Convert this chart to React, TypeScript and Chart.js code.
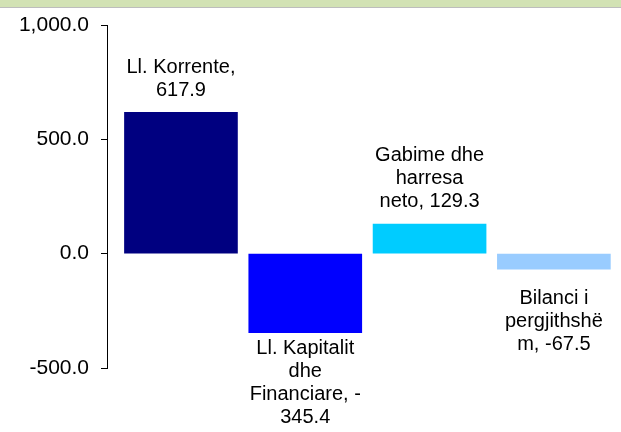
import React, { useEffect, useRef } from "react";
import { Chart, registerables } from "chart.js";

Chart.register(...registerables);

const categories = [
  "Ll. Korrente",
  "Ll. Kapitalit dhe Financiare",
  "Gabime dhe harresa neto",
  "Bilanci i pergjithshëm",
];
const values = [617.9, -345.4, 129.3, -67.5];
const barColors = ["#000080", "#0000FF", "#00CCFF", "#99CCFF"];
const yMin = -500;
const yMax = 1000;
const yStep = 500;

const labelGaps = [22, 16, 23, 29];
const FONT = '"Liberation Sans", Arial, sans-serif';

const fmt = (v: number) =>
  v.toLocaleString("en-US", { minimumFractionDigits: 1, maximumFractionDigits: 1 });

function wrap(ctx: CanvasRenderingContext2D, text: string, maxW: number): string[] {
  const words = text.split(" ");
  const lines: string[] = [];
  let line = "";
  const fits = (s: string) => ctx.measureText(s).width <= maxW;
  for (let w of words) {
    while (w) {
      const cand = line ? line + " " + w : w;
      if (fits(cand)) {
        line = cand;
        w = "";
        break;
      }
      const h = w.indexOf("-");
      if (h >= 0 && h < w.length - 1) {
        const pre = w.slice(0, h + 1);
        const c2 = line ? line + " " + pre : pre;
        if (fits(c2)) {
          lines.push(c2);
          line = "";
          w = w.slice(h + 1);
          continue;
        }
      }
      if (line) {
        lines.push(line);
        line = "";
        continue;
      }
      let k = w.length;
      while (k > 1 && !fits(w.slice(0, k))) k--;
      lines.push(w.slice(0, k));
      w = w.slice(k);
    }
  }
  if (line) lines.push(line);
  return lines;
}

const labelPlugin = {
  id: "barLabels",
  afterDatasetsDraw(chart: any) {
    const ctx = chart.ctx as CanvasRenderingContext2D;
    const meta = chart.getDatasetMeta(0);
    ctx.save();
    ctx.font = `20px ${FONT}`;
    ctx.fillStyle = "#000000";
    ctx.textAlign = "center";
    ctx.textBaseline = "middle";
    const lh = 23;
    meta.data.forEach((bar: any, i: number) => {
      const v = values[i];
      const text = `${categories[i]}, ${fmt(v)}`;
      const lines = wrap(ctx, text, 113);
      const gap = labelGaps[i];
      const y0 = v >= 0 ? bar.y - gap - (lines.length - 1) * lh : bar.y + gap;
      lines.forEach((l, k) => ctx.fillText(l, bar.x, y0 + k * lh));
    });
    ctx.restore();
  },
};

export default function App() {
  const ref = useRef<HTMLCanvasElement | null>(null);
  useEffect(() => {
    if (!ref.current) return;
    const chart = new Chart(ref.current, {
      type: "bar",
      data: {
        datasets: [
          {
            data: values.map((v, i) => ({ x: i, y: v })) as any,
            backgroundColor: barColors,
            borderWidth: 0,
            barThickness: 113,
          },
        ],
      },
      options: {
        animation: false,
        responsive: false,
        devicePixelRatio: 1,
        layout: { padding: { top: 25, bottom: 64, left: 0, right: 0 } },
        plugins: { legend: { display: false }, tooltip: { enabled: false } },
        scales: {
          x: {
            type: "linear",
            display: false,
            offset: false,
            min: -0.595,
            max: 3.54,
          },
          y: {
            min: yMin,
            max: yMax,
            afterFit: (scale: any) => {
              scale.width = 107;
            },
            ticks: {
              stepSize: yStep,
              color: "#000000",
              padding: 12,
              font: { family: FONT, size: 21 },
              callback: (v: any) => fmt(Number(v)),
            },
            grid: {
              drawOnChartArea: false,
              drawTicks: true,
              tickLength: 6,
              color: "#000000",
            },
            border: { display: true, color: "#000000", width: 1 },
          },
        },
      },
      plugins: [labelPlugin],
    });
    return () => chart.destroy();
  }, []);

  return (
    <div style={{ position: "absolute", left: 0, top: 0, width: 621, height: 432, background: "#ffffff" }}>
      <div
        style={{
          position: "absolute",
          left: 0,
          top: 0,
          width: 621,
          height: 7,
          background: "#D2E2B4",
          borderBottom: "1px solid #BDBDBD",
        }}
      />
      <canvas
        ref={ref}
        width={621}
        height={432}
        style={{ position: "absolute", left: 0, top: 0, width: 621, height: 432 }}
      />
    </div>
  );
}
